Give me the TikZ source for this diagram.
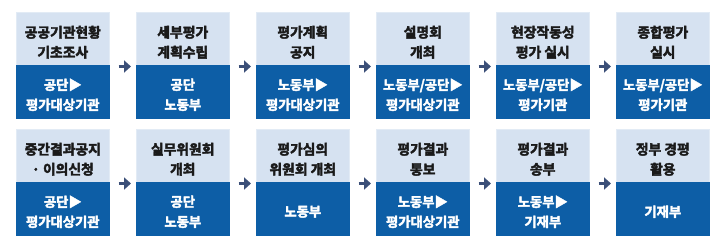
\documentclass[tikz,border=0pt]{standalone}
\usepackage{fontspec}
\setmainfont{Noto Sans CJK KR Bold}[FakeBold=3]
\usetikzlibrary{arrows.meta}
\definecolor{toplt}{HTML}{D6E2F1}
\definecolor{botdk}{HTML}{0D5EA6}
\definecolor{arrc}{HTML}{3B4F78}
\definecolor{txtdk}{HTML}{1A1A1A}
\tikzset{
  topbox/.style={fill=toplt, draw=toplt!70!white, line width=0.6pt, minimum width=93pt, minimum height=53pt, inner sep=0pt, anchor=north west},
  botbox/.style={fill=botdk, draw=botdk, line width=0.6pt, minimum width=93pt, minimum height=53pt, inner sep=0pt, anchor=north west},
  toptext/.style={inner sep=0pt, align=center, text=txtdk, font=\fontsize{13.8}{20}\selectfont, yshift=-3.5pt},
  bottext/.style={inner sep=0pt, align=center, text=white, font=\fontsize{13.3}{20}\selectfont, yshift=-3pt},
  arr/.style={draw=arrc, line width=3.2pt, -{Triangle[length=7pt,width=12pt]}}
}
\newcommand\stage[5]{%
  \node[topbox] (t#1) at (#2,#3) {};
  \node[botbox] (b#1) at (#2,#3+53) {};
  \node[toptext] (tt#1) at (t#1.center) {#4};
  \node[bottext] (bt#1) at (b#1.center) {#5};
}
\begin{document}
\begin{tikzpicture}[x=1pt,y=-1pt]
\useasboundingbox (0,0) rectangle (722,247);
% row 1
\stage{1}{16}{12}{공공기관현황\\기초조사}{공단▶\\평가대상기관}
\stage{2}{136}{12}{세부평가\\계획수립}{공단\\노동부}
\stage{3}{256}{12}{평가계획\\공지}{노동부▶\\평가대상기관}
\stage{4}{376}{12}{설명회\\개최}{노동부/공단▶\\평가대상기관}
\stage{5}{496}{12}{현장작동성\\평가 실시}{노동부/공단▶\\평가기관}
\stage{6}{616}{12}{종합평가\\실시}{노동부/공단▶\\평가기관}
% row 2
\stage{7}{16}{129}{중간결과공지\\· 이의신청}{공단▶\\평가대상기관}
\stage{8}{136}{129}{실무위원회\\개최}{공단\\노동부}
\stage{9}{256}{129}{평가심의\\위원회 개최}{노동부}
\stage{10}{376}{129}{평가결과\\통보}{노동부▶\\평가대상기관}
\stage{11}{496}{129}{평가결과\\송부}{노동부▶\\기재부}
\stage{12}{616}{129}{정부 경평\\활용}{기재부}
% arrows
\foreach \a/\b in {1/2,2/3,3/4,4/5,5/6,7/8,8/9,9/10,10/11,11/12}{
  \draw[arr] ([xshift=9pt,yshift=-1.5pt]b\a.north east) -- ([xshift=-5pt,yshift=-1.5pt]b\b.north west);
}
\end{tikzpicture}
\end{document}
